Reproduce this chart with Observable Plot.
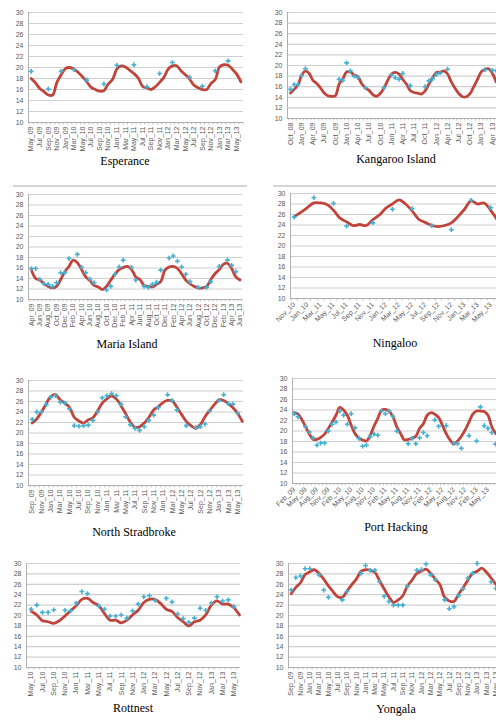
<!DOCTYPE html>
<html>
<head>
<meta charset="utf-8">
<script src="https://cdn.jsdelivr.net/npm/d3@7"></script>
<script src="https://cdn.jsdelivr.net/npm/@observablehq/plot@0.6"></script>
<style>
  html, body { margin: 0; padding: 0; background: #fff; }
  #wrap { position: relative; width: 496px; height: 720px; overflow: hidden; background: #fff; }
  .panel { position: absolute; }
  .title { position: absolute; font-family: "Liberation Serif", "DejaVu Serif", serif; font-size: 12px; color: #000; transform: translateX(-50%); white-space: nowrap; line-height: 14px; }
  .sep { position: absolute; height: 1.5px; background: #d4d4d4; }
</style>
</head>
<body>
<div id="wrap"></div>
<script>
// ---------- Data (monthly index 0 = first month of each series) ----------
const esperanceLabels = ["May_09","Jul_09","Sep_09","Nov_09","Jan_09","Mar_10","May_10","Jul_10","Sep_10","Nov_10","Jan_11","Mar_11","May_11","Jul_11","Sep_11","Nov_11","Jan_12","Mar_12","May_12","Jul_12","Sep_12","Nov_12","Jan_13","Mar_13","May_13"];
const esperanceLine = [18.0,17.2,16.2,15.6,15.0,15.0,17.3,18.7,19.8,20.0,19.7,19.1,18.3,17.4,16.4,16.0,15.7,15.8,17.0,17.8,19.7,20.3,20.1,19.5,18.9,18.1,16.6,16.3,16.0,16.5,17.3,18.2,19.7,20.3,20.3,19.4,18.7,17.9,16.8,16.3,16.0,16.0,17.1,17.8,20.1,20.5,20.4,19.7,18.8,17.4];
const esperanceObsMonth = [0,4,7,10,13,17,20,24,27,30,33,37,40,43,46];
const esperanceObsTemp = [19.3,16.1,19.3,19.6,17.7,17.0,20.4,20.5,16.5,18.9,20.9,18.2,16.6,19.4,21.2];

const kangarooLabels = ["Oct_08","Jan_09","Apr_09","Jul_09","Oct_09","Jan_10","Apr_10","Jul_10","Oct_10","Jan_11","Apr_11","Jul_11","Oct_11","Jan_12","Apr_12","Jul_12","Oct_12","Jan_13","Apr_13"];
const kangarooLine = [14.8,15.5,16.3,18.2,19.0,18.5,17.2,16.6,15.8,14.8,14.3,14.2,14.3,16.5,17.5,18.8,18.8,18.2,17.9,16.6,15.8,15.3,14.5,14.2,14.7,15.8,17.2,18.4,18.7,18.4,17.4,16.5,15.3,14.9,14.8,14.6,15.2,16.5,17.7,18.7,18.7,19.0,18.4,16.9,15.7,14.7,14.1,14.1,14.7,16.0,17.4,18.8,19.3,19.4,18.5,16.9];
const kangarooObsMonth = [0,1,2,3,4,13,14,15,16,17,18,20,25,27,28,29,30,32,36,37,38,39,40,42,52,54,55];
const kangarooObsTemp = [15.5,16.4,16.4,18.1,19.4,17.4,17.2,20.5,19.0,18.0,17.7,15.8,15.8,18.2,17.7,17.4,18.5,16.2,16.0,17.1,17.5,18.3,18.6,19.3,19.2,19.1,19.0];

const mariaLabels = ["Apr_09","Jun_09","Aug_09","Oct_09","Dec_09","Feb_10","Apr_10","Jun_10","Aug_10","Oct_10","Dec_10","Feb_11","Apr_11","Jun_11","Aug_11","Oct_11","Dec_11","Feb_12","Apr_12","Jun_12","Aug_12","Oct_12","Dec_12","Feb_13","Apr_13","Jun_13"];
const mariaLine = [15.6,14.0,13.7,13.0,12.5,12.2,12.5,13.8,15.3,16.3,17.5,17.0,15.7,14.3,13.6,12.7,12.4,11.9,12.5,13.7,14.8,15.7,16.1,16.3,15.7,14.3,13.8,12.7,12.5,12.4,12.9,13.4,15.6,16.2,16.3,15.9,14.9,13.7,13.0,12.5,12.2,12.2,12.5,13.8,14.9,15.7,16.7,16.9,15.9,14.3,13.7];
const mariaObsMonth = [0,1,2,3,4,5,6,7,8,9,11,12,13,14,15,18,19,20,21,22,24,25,27,28,29,30,31,33,34,35,36,37,38,40,42,43,45,47,48,49];
const mariaObsTemp = [15.9,15.9,13.8,13.0,12.9,12.5,13.2,15.1,15.1,17.8,18.6,16.1,15.1,13.9,13.2,11.8,12.5,14.8,16.2,17.5,16.1,13.7,12.5,12.3,12.9,13.3,15.6,17.9,18.3,17.3,16.2,14.8,13.4,12.3,12.3,13.4,16.3,17.5,16.5,15.3];

const ningalooLabels = ["Nov_10","Jan_10","Mar_11","May_11","Jul_11","Sep_11","Nov_11","Jan_12","Mar_12","May_12","Jul_12","Sep_12","Nov_12","Jan_13","Mar_13","May_13"];
const ningalooLine = [25.6,26.4,27.3,28.2,28.2,27.9,26.8,25.3,24.6,23.9,24.1,23.9,25.0,25.9,27.2,28.0,28.8,28.0,26.7,25.1,24.5,23.9,23.7,23.9,24.4,25.6,27.0,28.6,28.0,28.2,26.8,25.0];
const ningalooObsMonth = [0,3,6,8,12,15,18,21,24,27,30];
const ningalooObsTemp = [25.5,29.2,28.1,23.8,24.4,27.0,27.1,23.9,23.1,28.7,27.3];

const stradbrokeLabels = ["Sep_09","Nov_09","Jan_10","Mar_10","May_10","Jul_10","Sep_10","Nov_10","Jan_11","Mar_11","May_11","Jul_11","Sep_11","Nov_11","Jan_11","Mar_12","May_12","Jul_12","Sep_12","Nov_12","Jan_13","Mar_13","May_13"];
const stradbrokeLine = [21.9,22.7,24.0,25.6,27.0,27.3,26.3,25.7,24.9,23.0,22.3,21.9,22.5,22.9,24.2,25.7,26.5,27.1,26.5,25.2,23.7,22.1,21.1,21.2,21.9,23.0,24.4,25.0,25.8,26.2,26.1,24.9,23.5,22.2,21.4,20.9,21.6,23.1,24.3,25.4,26.3,26.2,25.6,24.8,23.7,22.2];
const stradbrokeObsMonth = [0,1,2,3,4,5,6,7,8,9,10,11,12,13,14,15,16,17,18,19,20,21,22,23,24,25,26,27,29,30,31,33,35,36,37,38,40,41,42,43,44];
const stradbrokeObsTemp = [22.6,24.0,24.0,25.4,26.8,27.1,25.9,25.7,24.6,21.4,21.3,21.4,21.5,22.4,24.0,26.7,27.1,27.5,27.1,25.5,23.1,21.6,20.9,20.5,21.2,22.4,23.4,24.8,27.3,26.2,24.4,21.4,21.0,21.2,21.7,24.2,26.2,27.3,25.6,25.5,23.8];

const hackingLabels = ["Feb_09","May_09","Aug_09","Nov_09","Feb_10","May_10","Aug_10","Nov_10","Feb_11","May_11","Aug_11","Nov_11","Feb_12","May_12","Aug_12","Nov_12","Feb_13","May_13"];
const hackingLine = [23.5,23.2,22.2,20.8,19.4,18.4,18.4,18.8,19.4,20.5,21.7,23.0,24.5,24.0,23.0,21.1,19.5,18.7,18.3,18.1,19.2,20.9,22.4,24.0,24.1,23.7,22.7,20.8,19.5,18.3,18.4,18.6,19.0,20.5,21.4,23.0,23.5,23.2,22.6,21.1,19.5,18.3,17.5,18.1,19.0,20.2,21.7,23.2,23.8,23.8,23.7,23.0,20.8,19.5];
const hackingObsMonth = [0,1,3,4,5,6,7,8,9,10,11,12,13,14,15,16,17,18,19,20,21,22,23,24,25,26,27,30,31,32,33,34,35,37,38,40,42,43,44,46,48,49,50,51,52,53];
const hackingObsTemp = [23.3,22.7,20.8,19.8,18.7,17.3,17.7,17.7,20.0,21.3,21.7,23.8,23.0,21.3,23.3,20.6,18.6,17.1,17.3,18.9,19.4,19.2,23.8,23.3,23.8,22.8,20.0,17.6,18.6,17.6,18.7,19.7,19.1,22.1,20.9,21.0,17.7,17.6,16.7,19.1,18.1,24.6,21.0,20.5,19.7,17.5];

const rottnestLabels = ["May_10","Jul_10","Sep_10","Nov_10","Jan_11","Mar_11","May_11","Jul_11","Sep_11","Nov_11","Jan_12","Mar_12","May_12","Jul_12","Sep_12","Nov_12","Jan_13","Mar_13","May_13"];
const rottnestLine = [20.8,20.1,19.0,18.8,18.5,19.0,19.9,20.9,21.9,23.1,23.3,22.5,21.9,20.4,19.1,19.1,18.6,19.1,20.1,21.0,22.5,23.1,23.1,22.3,21.2,20.8,19.6,18.8,18.0,18.8,19.1,20.1,22.0,22.8,22.2,22.2,21.5,20.1];
const rottnestObsMonth = [0,1,2,3,4,6,7,8,9,10,12,13,14,15,16,17,18,19,20,21,22,24,25,26,27,28,29,30,31,32,33,34,35,36];
const rottnestObsTemp = [21.2,22.0,20.6,20.6,21.1,21.0,20.9,22.4,24.6,24.2,21.8,21.2,19.9,19.9,20.1,19.5,20.9,22.2,23.6,23.8,22.9,23.3,22.6,20.3,19.4,18.7,19.5,21.4,21.0,22.4,23.6,22.8,23.0,21.7];

const yongalaLabels = ["Sep_09","Nov_09","Jan_10","Mar_10","May_10","Jul_10","Sep_10","Nov_10","Jan_11","Mar_11","May_11","Jul_11","Sep_11","Nov_11","Jan_12","Mar_12","May_12","Jul_12","Sep_12","Nov_12","Jan_13","Mar_13","May_13"];
const yongalaLine = [24.2,25.4,26.3,27.9,28.4,28.8,28.1,27.0,25.7,24.6,23.6,23.5,24.7,25.9,27.0,28.5,28.8,28.7,28.3,26.7,25.1,23.6,22.5,23.0,23.8,25.7,26.8,28.1,28.5,28.9,28.1,27.0,25.9,23.5,22.8,22.7,24.1,25.4,26.8,28.1,28.5,29.1,28.3,27.2,26.0];
const yongalaObsMonth = [0,1,2,3,4,6,7,8,11,12,15,16,17,18,19,20,21,22,23,24,25,27,28,29,30,31,33,34,35,36,37,38,39,40,43,44];
const yongalaObsTemp = [24.9,27.3,27.6,29.0,29.0,27.8,24.9,23.5,23.0,24.6,28.1,29.6,28.7,28.7,26.5,23.7,22.7,22.0,22.0,22.0,25.6,28.7,28.8,29.9,27.8,26.9,23.0,21.3,21.7,23.8,25.1,27.2,28.1,30.0,26.5,25.2];

const yTicks = [10,12,14,16,18,20,22,24,26,28,30];

// ---------- Layout ----------
const panels = [
  {title:"Esperance", labels:esperanceLabels, step:2, line:esperanceLine, om:esperanceObsMonth, ot:esperanceObsTemp,
   left:28, right:243, top:12, bottom:122, idx0:30.7, ppm:4.28, rotate:-90, tx:125, ty:161},
  {title:"Kangaroo Island", labels:kangarooLabels, step:3, line:kangarooLine, om:kangarooObsMonth, ot:kangarooObsTemp,
   left:287, right:530, top:12, bottom:118, idx0:290, ppm:3.74, rotate:-90, tx:396, ty:159},
  {title:"Maria Island", labels:mariaLabels, step:2, line:mariaLine, om:mariaObsMonth, ot:mariaObsTemp,
   left:28, right:242, top:194, bottom:299, idx0:31, ppm:4.17, rotate:-90, tx:127, ty:344},
  {title:"Ningaloo", labels:ningalooLabels, step:2, line:ningalooLine, om:ningalooObsMonth, ot:ningalooObsTemp,
   left:290, right:530, top:193, bottom:298, idx0:293.7, ppm:6.55, rotate:-45, tx:395, ty:343},
  {title:"North Stradbroke", labels:stradbrokeLabels, step:2, line:stradbrokeLine, om:stradbrokeObsMonth, ot:stradbrokeObsTemp,
   left:28, right:243, top:380, bottom:485, idx0:31.7, ppm:4.67, rotate:-90, tx:134, ty:532},
  {title:"Port Hacking", labels:hackingLabels, step:3, line:hackingLine, om:hackingObsMonth, ot:hackingObsTemp,
   left:292, right:530, top:378, bottom:483, idx0:293.7, ppm:3.8, rotate:-45, tx:396, ty:527},
  {title:"Rottnest", labels:rottnestLabels, step:2, line:rottnestLine, om:rottnestObsMonth, ot:rottnestObsTemp,
   left:26, right:240, top:563, bottom:667, idx0:30.7, ppm:5.63, rotate:-90, tx:133, ty:708},
  {title:"Yongala", labels:yongalaLabels, step:2, line:yongalaLine, om:yongalaObsMonth, ot:yongalaObsTemp,
   left:288, right:530, top:563, bottom:667, idx0:290.7, ppm:4.65, rotate:-90, tx:396, ty:709}
];

const RED = "#c0443b";
const CYAN = "#45b0d2";
const GRID = "#d0d0d0";
const AXIS = "#b0b0b0";
const TXT = "#595959";

const wrap = document.getElementById("wrap");

// separator lines above second row
for (const [l, r] of [[13, 247], [273, 496]]) {
  const s = document.createElement("div");
  s.className = "sep";
  s.style.left = l + "px"; s.style.width = (r - l) + "px"; s.style.top = "185px";
  wrap.appendChild(s);
}

for (const p of panels) {
  const mL = 26, mR = 4, mT = 6, mB = 44;
  const d0 = (p.left - p.idx0) / p.ppm;
  const d1 = (p.right - p.idx0) / p.ppm;
  const lineData = p.line.map((t, m) => ({m, t}));
  const obsData = p.om.map((m, i) => ({m, t: p.ot[i]}));
  const tickPos = p.labels.map((_, i) => i * p.step);
  const boundaries = d3.range(0, p.line.length + 1).map(i => i - 0.5).filter(v => v >= d0 && v <= d1);

  const chart = Plot.plot({
    width: p.right - p.left + mL + mR,
    height: p.bottom - p.top + mT + mB,
    marginLeft: mL, marginRight: mR, marginTop: mT, marginBottom: mB,
    style: {background: "transparent", overflow: "visible"},
    x: {type: "linear", domain: [d0, d1]},
    y: {domain: [10, 30]},
    marks: [
      Plot.ruleY(yTicks.filter(v => v > 10), {stroke: GRID, strokeWidth: 1.2}),
      Plot.ruleY([10], {stroke: AXIS, strokeWidth: 1}),
      Plot.ruleX([d0], {stroke: AXIS, strokeWidth: 1}),
      Plot.ruleX(boundaries, {y1: 10, y2: 9.55, stroke: AXIS, strokeWidth: 0.8}),
      Plot.axisY({ticks: yTicks, tickSize: 0, tickPadding: 5, fontSize: 7, fill: TXT, label: null,
                  fontFamily: "Liberation Sans, Arial, sans-serif"}),
      Plot.axisX({ticks: tickPos, tickFormat: d => p.labels[Math.round(d / p.step)], tickRotate: p.rotate,
                  tickSize: 0, tickPadding: p.rotate === -90 ? 4 : 5, fontSize: 7, fill: TXT, label: null,
                  fontFamily: "Liberation Sans, Arial, sans-serif"}),
      Plot.line(lineData, {x: "m", y: "t", stroke: RED, strokeWidth: 2.8, curve: "catmull-rom"}),
      Plot.dot(obsData, {x: "m", y: "t", symbol: "cross", r: 2.0, fill: CYAN, stroke: "none"})
    ]
  });
  chart.classList.add("panel");
  chart.style.left = (p.left - mL) + "px";
  chart.style.top = (p.top - mT) + "px";
  wrap.appendChild(chart);

  const t = document.createElement("div");
  t.className = "title";
  t.textContent = p.title;
  t.style.left = p.tx + "px";
  t.style.top = (p.ty - 7) + "px";
  wrap.appendChild(t);
}
</script>
</body>
</html>
